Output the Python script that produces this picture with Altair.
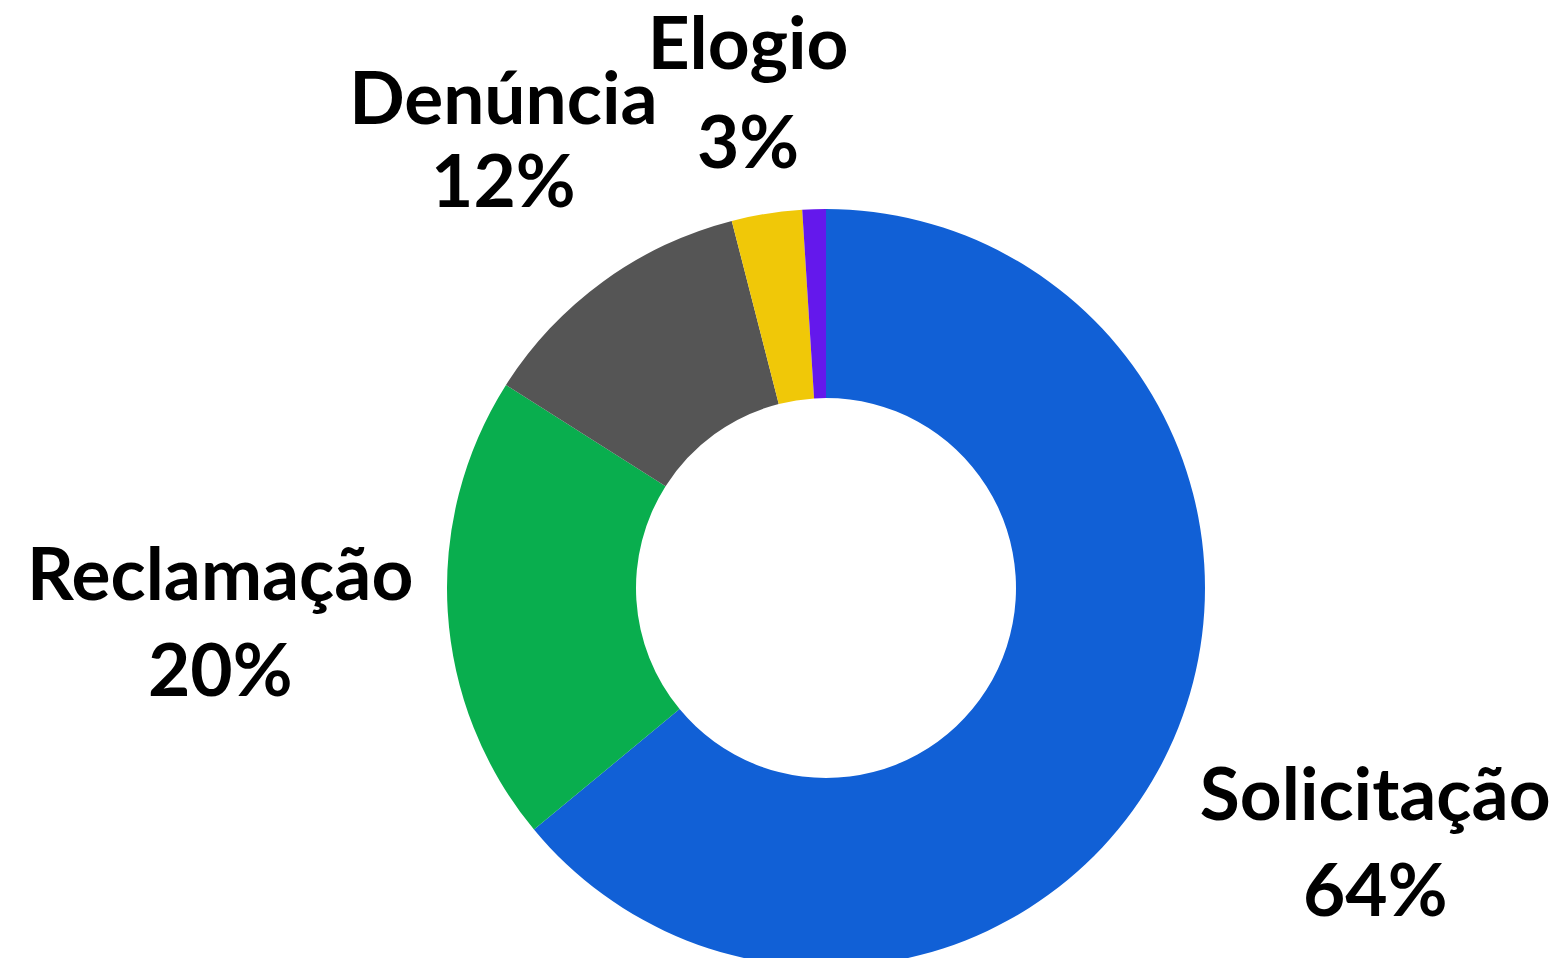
import altair as alt
import pandas as pd

categorias = ["Solicitação", "Reclamação", "Denúncia", "Elogio", "Sugestão"]
valores = [64, 20, 12, 3, 1]
rotulos = ["Solicitação\n64%", "Reclamação\n20%", "Denúncia\n12%", "Elogio\n3%", ""]
cores = ["#1160D6", "#09AE4E", "#555555", "#F0C808", "#6418EC"]

df = pd.DataFrame({
    "categoria": categorias,
    "valor": valores,
    "rotulo": rotulos,
    "ordem": list(range(len(categorias))),
})

CX, CY = 818, 580
FONT = "Lato"

base = alt.Chart(df).transform_window(
    cum="sum(valor)", sort=[alt.SortField("ordem")], frame=[None, 0]
).transform_calculate(
    inicio="datum.cum - datum.valor",
    meio="datum.cum - datum.valor / 2",
)

theta_scale = alt.Scale(domain=[0, 100])

arcs = base.mark_arc(outerRadius=379, innerRadius=190).encode(
    theta=alt.Theta("inicio:Q", scale=theta_scale),
    theta2="cum:Q",
    color=alt.Color("categoria:N", scale=alt.Scale(domain=categorias, range=cores), legend=None),
    x=alt.value(CX),
    y=alt.value(CY),
)

def label_layer(cats, radius, line_height):
    return base.transform_filter(
        alt.FieldOneOfPredicate(field="categoria", oneOf=cats)
    ).mark_text(
        radius=radius, font=FONT, fontSize=73, fontWeight="bold", color="#000000",
        lineBreak="\n", lineHeight=line_height, align="center", baseline="middle",
        dy=-line_height / 2,
    ).encode(
        theta=alt.Theta("meio:Q", scale=theta_scale),
        text="rotulo:N",
        x=alt.value(CX),
        y=alt.value(CY),
    )

labels_a = label_layer(["Solicitação", "Reclamação"], 607, 96)
labels_b = label_layer(["Denúncia"], 549, 83)
labels_c = label_layer(["Elogio"], 498, 99)

chart = alt.layer(arcs, labels_a, labels_b, labels_c).properties(
    width=1544, height=950, autosize=alt.AutoSizeParams(type="none"), padding=0,
).configure_view(stroke=None)

chart.save("out.html", embed_options={"renderer": "svg", "actions": False})
